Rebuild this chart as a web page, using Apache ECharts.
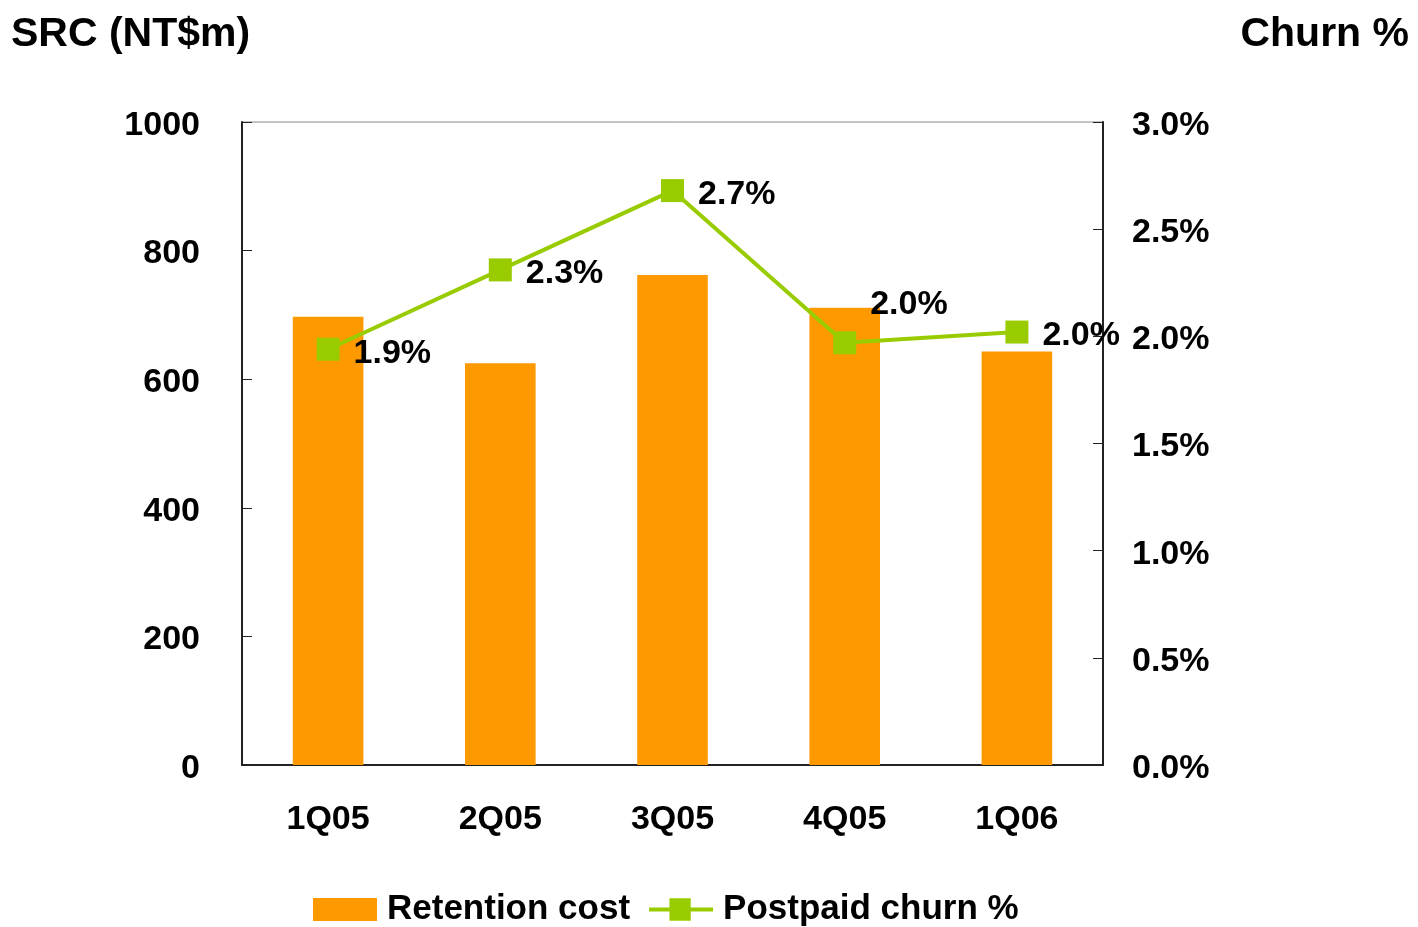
<!DOCTYPE html>
<html>
<head>
<meta charset="utf-8">
<script src="https://cdn.jsdelivr.net/npm/echarts@6/dist/echarts.min.js"></script>
<style>html,body{margin:0;padding:0;background:#fff;}#c{width:1418px;height:927px;}</style>
</head>
<body>
<div id="c"></div>
<script>
var categories = ['1Q05', '2Q05', '3Q05', '4Q05', '1Q06'];
var retentionCost = [697, 625, 762, 711, 643];
var churnPct = [1.94, 2.31, 2.68, 1.97, 2.02];
var churnLabels = ['1.9%', '2.3%', '2.7%', '2.0%', '2.0%'];
var leftTicks = [0, 200, 400, 600, 800, 1000];
var rightTicks = ['0.0%', '0.5%', '1.0%', '1.5%', '2.0%', '2.5%', '3.0%'];

var FONT = 'Liberation Sans, Arial, sans-serif';
var tickRich = { t: { fontSize: 34, fontWeight: 'bold', color: '#000', fontFamily: FONT, padding: [7, 0, 0, 0] } };
var chart = echarts.init(document.getElementById('c'));
chart.setOption({
  animation: false,
  textStyle: { fontFamily: FONT },
  title: [
    { text: 'SRC (NT$m)', left: 6, top: 9, textStyle: { fontSize: 41, fontWeight: 'bold', color: '#000', fontFamily: FONT } },
    { text: 'Churn %', right: 4, top: 9, textStyle: { fontSize: 41, fontWeight: 'bold', color: '#000', fontFamily: FONT } }
  ],
  grid: { left: 242, right: 315, top: 122, bottom: 162, show: true, borderColor: '#888', borderWidth: 1 },
  legend: {
    left: 308, top: 887, itemWidth: 64, itemHeight: 23, itemGap: 19,
    textStyle: { fontSize: 35, fontWeight: 'bold', color: '#000', fontFamily: FONT, padding: [0, 0, 0, 5] },
    data: [
      { name: 'Retention cost', icon: 'rect' },
      { name: 'Postpaid churn %', icon: 'path://M0,9.5 H21 V0 H43 V9.5 H66 V13.5 H43 V23 H21 V13.5 H0 Z' }
    ]
  },
  xAxis: {
    type: 'category', data: categories,
    axisLine: { lineStyle: { color: '#222', width: 2 } },
    axisTick: { show: false },
    axisLabel: { fontSize: 34, fontWeight: 'bold', color: '#000', margin: 38, fontFamily: FONT }
  },
  yAxis: [
    {
      type: 'value', min: 0, max: 1000, interval: 200,
      axisLine: { show: true, lineStyle: { color: '#222', width: 2 } },
      axisTick: { show: true, inside: true, length: 10, lineStyle: { color: '#222' } },
      splitLine: { show: false },
      axisLabel: { margin: 42, rich: tickRich,
        formatter: function (v) { return leftTicks.indexOf(v) >= 0 ? '{t|' + v + '}' : ''; } }
    },
    {
      type: 'value', min: 0, max: 3, interval: 0.5, position: 'right',
      axisLine: { show: true, lineStyle: { color: '#222', width: 2 } },
      axisTick: { show: true, inside: true, length: 10, lineStyle: { color: '#222' } },
      splitLine: { show: false },
      axisLabel: { margin: 29, rich: tickRich,
        formatter: function (v) { return '{t|' + rightTicks[Math.round(v / 0.5)] + '}'; } }
    }
  ],
  series: [
    {
      name: 'Retention cost', type: 'bar', data: retentionCost, barWidth: '41%',
      itemStyle: { color: '#FF9900' }
    },
    {
      name: 'Postpaid churn %', type: 'line', yAxisIndex: 1,
      data: churnPct.map(function (v, i) {
        var d = { value: v };
        if (i === 3) d.label = { offset: [0, -38] };
        return d;
      }),
      symbol: 'rect', symbolSize: 23,
      lineStyle: { color: '#99CC00', width: 4 },
      itemStyle: { color: '#99CC00' },
      label: {
        show: true, position: 'right', distance: 14, offset: [0, 4],
        fontSize: 34, fontWeight: 'bold', color: '#000', fontFamily: FONT,
        formatter: function (p) { return churnLabels[p.dataIndex]; }
      },
      z: 5
    }
  ]
});
</script>
</body>
</html>
